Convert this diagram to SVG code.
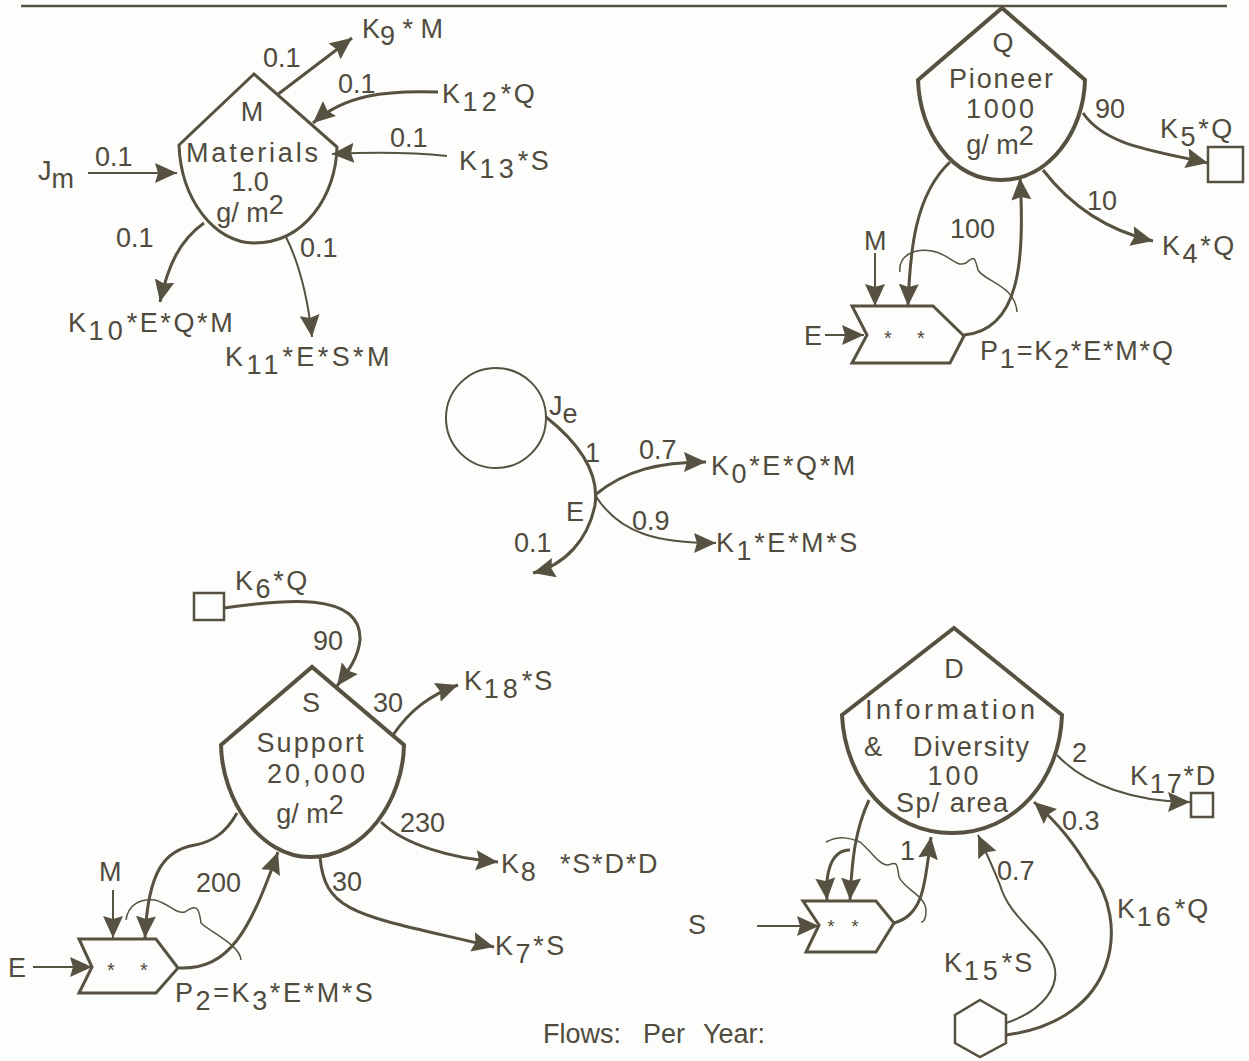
<svg xmlns="http://www.w3.org/2000/svg" width="1249" height="1061" viewBox="0 0 1249 1061">
<style>
text{font-family:"Liberation Sans",Arial,sans-serif;font-size:27px;fill:#4f4b3e}
.c{text-anchor:middle}
.k{letter-spacing:2.6px}
.p{letter-spacing:1.8px}
.s{letter-spacing:4px}
.thick{fill:none;stroke:#565140;stroke-width:4}
.thin{fill:none;stroke:#565140;stroke-width:2}
.box{fill:none;stroke:#565140;stroke-width:2.5}
.w{fill:none;stroke:#565140;stroke-width:1.5}
.f1{fill:none;stroke:#565140;stroke-width:2;marker-end:url(#a)}
.f2{fill:none;stroke:#565140;stroke-width:3;marker-end:url(#a)}
</style>
<defs>
<marker id="a" markerUnits="userSpaceOnUse" markerWidth="26" markerHeight="22" refX="22" refY="10" orient="auto"><path d="M0 0L22 10L0 20L3 10Z" fill="#565140"/></marker>
</defs>
<rect width="1249" height="1061" fill="#fdfdfb"/>
<path d="M21 6H1227" fill="none" stroke="#565140" stroke-width="2.5"/>
<g id="connectors">
<path class="f2" d="M277 95L352 38"/>
<path class="f2" d="M438 92C385 90 345 95 313 123"/>
<path class="f1" d="M447 156C410 152 370 152 332 154"/>
<path class="f1" d="M88 173H177"/>
<path class="f2" d="M204 223C180 240 168 265 160 302"/>
<path class="f1" d="M286 237C300 265 308 300 312 337"/>
<path class="f2" d="M1083 113C1105 145 1150 150 1208 163"/>
<path class="f2" d="M1043 170C1070 205 1105 230 1153 241"/>
<path class="f2" d="M964 335C1020 330 1025 260 1020 178"/>
<path class="f2" d="M950 162C915 195 910 250 908 306"/>
<path class="f1" d="M875 253V306"/>
<path class="f1" d="M825 335H864"/>
<path class="w" d="M900 272C898 255 915 248 932 251C950 254 955 268 966 263C975 255 975 258 978 270C985 282 1015 285 1017 312"/>
<path class="f2" d="M546 417C575 440 600 470 595 505C588 540 565 565 533 573"/>
<path class="f2" d="M595 495C625 470 660 462 706 462"/>
<path class="f1" d="M595 495C620 535 660 543 716 543"/>
<path class="f2" d="M224 608C280 600 362 590 360 640C358 660 345 675 337 686"/>
<path class="f2" d="M393 735C410 710 430 695 458 685"/>
<path class="f2" d="M381 822C405 845 450 858 498 862"/>
<path class="f2" d="M320 857C325 915 360 915 494 947"/>
<path class="f2" d="M237 813C225 835 210 842 195 845C165 850 148 870 145 938"/>
<path class="f2" d="M179 968C230 970 250 930 278 852"/>
<path class="f1" d="M113 890V938"/>
<path class="f1" d="M33 967H92"/>
<path class="w" d="M126 920C128 905 140 898 155 900C170 904 175 914 185 912C195 905 199 905 201 923C210 932 240 945 241 960"/>
<path class="f1" d="M1057 755C1085 785 1135 802 1190 802"/>
<path class="f2" d="M1006 1035C1120 1020 1130 920 1090 870C1075 845 1060 825 1034 802"/>
<path class="f1" d="M1006 1023C1045 1010 1060 985 1054 965C1045 935 1010 920 1000 885C992 865 985 850 978 835"/>
<path class="f2" d="M869 800C855 830 852 860 850 900"/>
<path class="f2" d="M850 850C830 850 825 875 827 900"/>
<path class="f2" d="M894 923C925 915 925 880 931 837"/>
<path class="f1" d="M757 926H819"/>
<path class="w" d="M826 842C840 835 850 838 860 842C870 850 880 866 888 865C897 862 897 862 899 877C905 890 925 895 926 910C926 918 924 922 921 922"/>
</g>
<g id="node-m">
<path class="thick" style="stroke-width:3" d="M179 145L254 74L337 147C336 195 305 243 254 243C215 243 181 200 179 145Z"/>
<text class="c" x="252" y="121">M</text>
<text class="c" x="252" y="162" textLength="132">Materials</text>
<text class="c" x="250" y="191">1.0</text>
<text class="c" x="250" y="222">g/ m<tspan dy="-8">2</tspan></text>
</g>
<g id="node-q">
<path class="thick" d="M918 80L1002 8L1085 80C1084 130 1050 180 1001 180C950 180 920 130 918 80Z"/>
<text class="c" x="1003" y="52">Q</text>
<text class="c" x="1001" y="88" textLength="104">Pioneer</text>
<text class="c" x="1000" y="118" textLength="68">1000</text>
<text class="c" x="1000" y="154">g/ m<tspan dy="-9">2</tspan></text>
<path class="box" d="M1208 147H1243V182H1208Z"/>
<path class="thick" style="stroke-width:3" d="M852 306H933L964 336L950 363H852L867 335Z"/>
<text class="c" x="888" y="345" style="font-size:20px">*</text>
<text class="c" x="921" y="345" style="font-size:20px">*</text>
</g>
<g id="node-e">
<circle class="thin" cx="496" cy="418" r="50"/>
</g>
<g id="node-s">
<path class="thick" d="M221 745L312 667L404 745C403 800 365 857 310 857C260 857 222 800 221 745Z"/>
<text class="c" x="311" y="712">S</text>
<text class="c" x="310" y="752" textLength="107">Support</text>
<text class="c" x="316" y="783" textLength="98">20,000</text>
<text class="c" x="310" y="823">g/ m<tspan dy="-9">2</tspan></text>
<path class="box" d="M194 593H224V620H194Z"/>
<path class="thick" style="stroke-width:3" d="M79 939H156L178 968L156 993H79L92 967Z"/>
<text class="c" x="111" y="977" style="font-size:20px">*</text>
<text class="c" x="144" y="977" style="font-size:20px">*</text>
</g>
<g id="node-d">
<path class="thick" d="M842 715L954 628L1062 715C1060 780 1015 833 952 833C890 833 845 780 842 715Z"/>
<text class="c" x="954" y="678">D</text>
<text class="c" x="950" y="719" textLength="170">Information</text>
<text x="864" y="756">&amp;</text>
<text x="913" y="756" textLength="116">Diversity</text>
<text class="c" x="953" y="785" textLength="51">100</text>
<text class="c" x="952" y="812" textLength="112">Sp/ area</text>
<path class="box" d="M1191 793H1213V817H1191Z"/>
<path class="thick" style="stroke-width:3" d="M803 901H876L894 923L876 952H806L819 925Z"/>
<text class="c" x="831" y="933" style="font-size:18px">*</text>
<text class="c" x="855" y="933" style="font-size:18px">*</text>
<path class="thick" style="stroke-width:2.5" d="M980 1000L1006 1015V1043L980 1057L955 1043V1015Z"/>
</g>
<g id="labels">
<text x="263" y="67">0.1</text>
<text x="338" y="93">0.1</text>
<text x="390" y="147">0.1</text>
<text x="95" y="166">0.1</text>
<text x="116" y="247">0.1</text>
<text x="300" y="257">0.1</text>
<text x="38" y="180">J<tspan dy="8">m</tspan></text>
<text x="362" y="38">K<tspan dy="7">9</tspan><tspan dy="-7"> * M</tspan></text>
<text class="k" x="442" y="103">K<tspan class="s" dy="8">12</tspan><tspan dy="-8">*Q</tspan></text>
<text class="k" x="459" y="170">K<tspan class="s" dy="8">13</tspan><tspan dy="-8">*S</tspan></text>
<text class="k" x="68" y="332">K<tspan class="s" dy="8">10</tspan><tspan dy="-8">*E*Q*M</tspan></text>
<text class="k" x="225" y="366" style="letter-spacing:3.4px">K<tspan class="s" dy="8">11</tspan><tspan dy="-8">*E*S*M</tspan></text>
<text x="1095" y="118">90</text>
<text x="1087" y="210">10</text>
<text x="950" y="238">100</text>
<text class="k" x="1160" y="138">K<tspan dy="8">5</tspan><tspan dy="-8">*Q</tspan></text>
<text class="k" x="1162" y="255">K<tspan dy="8">4</tspan><tspan dy="-8">*Q</tspan></text>
<text x="864" y="250">M</text>
<text x="804" y="345">E</text>
<text class="p" x="980" y="360">P<tspan dy="8">1</tspan><tspan dy="-8">=K</tspan><tspan dy="8">2</tspan><tspan dy="-8">*E*M*Q</tspan></text>
<text x="549" y="415">J<tspan dy="8">e</tspan></text>
<text x="585" y="462">1</text>
<text x="639" y="459">0.7</text>
<text class="k" x="711" y="475">K<tspan dy="8">0</tspan><tspan dy="-8">*E*Q*M</tspan></text>
<text x="632" y="530">0.9</text>
<text class="k" x="716" y="552">K<tspan dy="8">1</tspan><tspan dy="-8">*E*M*S</tspan></text>
<text x="566" y="521">E</text>
<text x="514" y="552">0.1</text>
<text class="k" x="235" y="590">K<tspan dy="8">6</tspan><tspan dy="-8">*Q</tspan></text>
<text x="313" y="650">90</text>
<text x="373" y="712">30</text>
<text class="p" x="464" y="690">K<tspan class="s" dy="8">18</tspan><tspan dy="-8">*S</tspan></text>
<text x="400" y="832">230</text>
<text class="p" x="501" y="873">K<tspan dy="8">8</tspan></text>
<text class="p" x="560" y="873">*S*D*D</text>
<text x="332" y="891">30</text>
<text x="196" y="892">200</text>
<text x="99" y="881">M</text>
<text x="8" y="977">E</text>
<text class="k" x="495" y="955">K<tspan dy="8">7</tspan><tspan dy="-8">*S</tspan></text>
<text class="k" x="175" y="1002">P<tspan dy="8">2</tspan><tspan dy="-8">=K</tspan><tspan dy="8">3</tspan><tspan dy="-8">*E*M*S</tspan></text>
<text x="1072" y="762">2</text>
<text class="p" x="1130" y="785">K<tspan dy="8">17</tspan><tspan dy="-8">*D</tspan></text>
<text x="1062" y="830">0.3</text>
<text x="900" y="860">1</text>
<text x="997" y="880">0.7</text>
<text class="p" x="1117" y="918">K<tspan class="s" dy="8">16</tspan><tspan dy="-8">*Q</tspan></text>
<text class="p" x="944" y="972">K<tspan class="s" dy="8">15</tspan><tspan dy="-8">*S</tspan></text>
<text x="688" y="934">S</text>
<text x="543" y="1043">Flows:</text>
<text x="643" y="1043">Per</text>
<text x="703" y="1043">Year:</text>
</g>
</svg>
